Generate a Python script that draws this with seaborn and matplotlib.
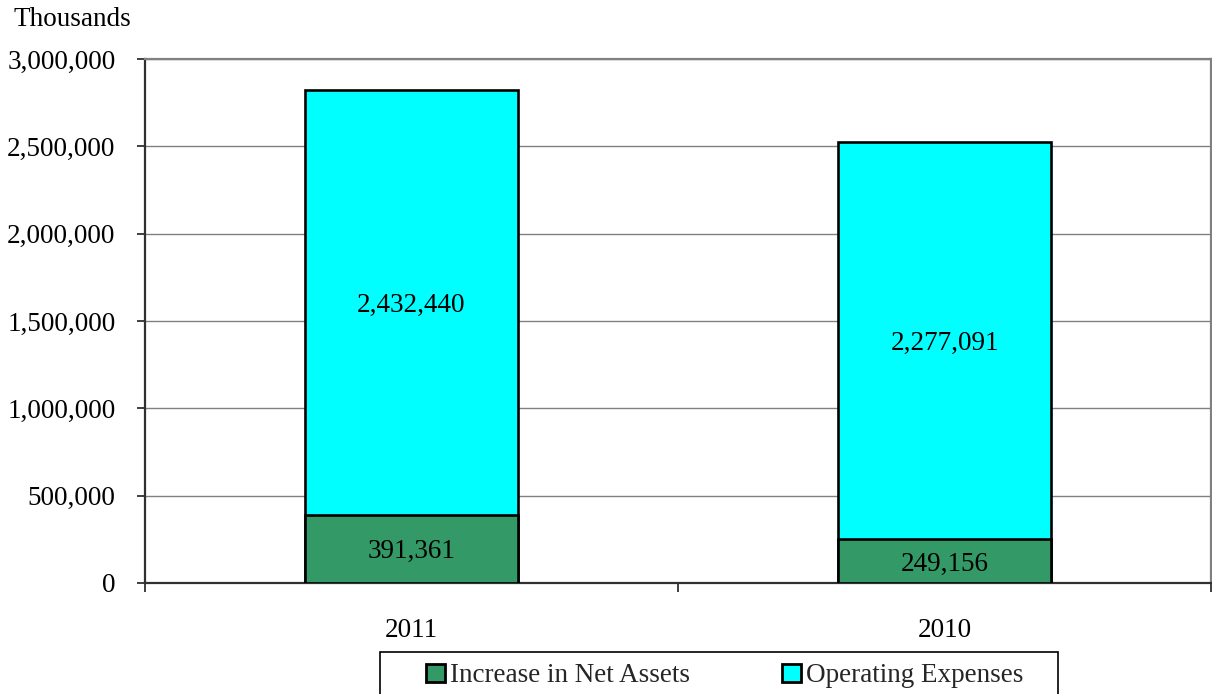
import matplotlib
matplotlib.use("Agg")
import matplotlib.pyplot as plt
from matplotlib.patches import Patch, Rectangle
from matplotlib.ticker import FuncFormatter, FixedLocator
import seaborn as sns
import pandas as pd

years = ["2011", "2010"]
net_assets_increase = [391361, 249156]
operating_expenses = [2432440, 2277091]
y_ticks = [0, 500000, 1000000, 1500000, 2000000, 2500000, 3000000]

GREEN = "#339966"
CYAN = "#00FFFF"

sns.set_theme(style="white")
plt.rcParams["font.family"] = ["Liberation Serif", "DejaVu Serif"]
FS = 19.5

W, H = 1212, 694

df = pd.DataFrame({
    "year": years,
    "net": net_assets_increase,
    "opex": operating_expenses,
})
df["total"] = df["net"] + df["opex"]

fig = plt.figure(figsize=(W / 100, H / 100), dpi=100)
ax = fig.add_axes([145 / W, 1 - 583 / H, (1211 - 145) / W, (583 - 59) / H])

# stacked bars: the full column in cyan, the lower segment in green on top
sns.barplot(data=df, x="year", y="total", color=CYAN, saturation=1,
            width=0.4, edgecolor="black", linewidth=1.9, ax=ax, zorder=3)
sns.barplot(data=df, x="year", y="net", color=GREEN, saturation=1,
            width=0.4, edgecolor="black", linewidth=1.9, ax=ax, zorder=4)

# segment value labels
for i, (n, o) in enumerate(zip(net_assets_increase, operating_expenses)):
    ax.text(i, n / 2, f"{n:,}", ha="center", va="center_baseline",
            fontsize=FS, color="black", zorder=5)
    ax.text(i, n + o / 2, f"{o:,}", ha="center", va="center_baseline",
            fontsize=FS, color="black", zorder=5)

ax.set_xlim(-0.5, 1.5)
ax.set_ylim(0, 3000000)
ax.set_yticks(y_ticks)
ax.yaxis.set_major_formatter(FuncFormatter(lambda v, p: f"{int(v):,}"))
ax.grid(axis="y", color="#808080", linewidth=1.0, zorder=0)
ax.set_axisbelow(True)

# category labels centred, tick marks on category boundaries
ax.set_xticks([0, 1])
ax.set_xticklabels(years)
ax.xaxis.set_minor_locator(FixedLocator([-0.5, 0.5, 1.5]))
ax.tick_params(axis="x", which="major", length=0, pad=25, labelsize=FS)
ax.tick_params(axis="x", which="minor", length=6.5, width=1.3, color="#303030",
               direction="out", bottom=True)
ax.tick_params(axis="y", which="major", length=5.8, width=1.3, color="#303030",
               direction="out", left=True, pad=15.5, labelsize=FS)
for lab in ax.get_xticklabels() + ax.get_yticklabels():
    lab.set_color("black")

ax.set_xlabel("")
ax.set_ylabel("")

for side in ["top", "right"]:
    ax.spines[side].set_color("#808080")
    ax.spines[side].set_linewidth(1.6)
for side in ["left", "bottom"]:
    ax.spines[side].set_color("#303030")
    ax.spines[side].set_linewidth(1.6)

fig.text(13 / W, 1 - 20 / H, "Thousands", fontsize=FS, ha="left",
         va="center", color="black")

# legend box, running past the lower edge of the figure
fig.patches.append(Rectangle((380 / W, -0.05), (1058 - 380) / W,
                             0.05 + 1 - 652 / H, transform=fig.transFigure,
                             facecolor="white", edgecolor="black",
                             linewidth=1.2, zorder=1))

handles = [
    Patch(facecolor=GREEN, edgecolor="black", linewidth=2.0),
    Patch(facecolor=CYAN, edgecolor="black", linewidth=2.0),
]
em = FS * 100 / 72
leg = fig.legend(handles, ["Increase in Net Assets", "Operating Expenses"],
                 loc="center left", bbox_to_anchor=(426 / W, 1 - 676 / H),
                 bbox_transform=fig.transFigure, ncol=2, fontsize=FS,
                 frameon=False, handlelength=19 / em, handleheight=18 / em,
                 handletextpad=5 / em, columnspacing=92 / em,
                 borderpad=0, borderaxespad=0)
leg.set_zorder(2)

fig.savefig("out.png", dpi=100)
